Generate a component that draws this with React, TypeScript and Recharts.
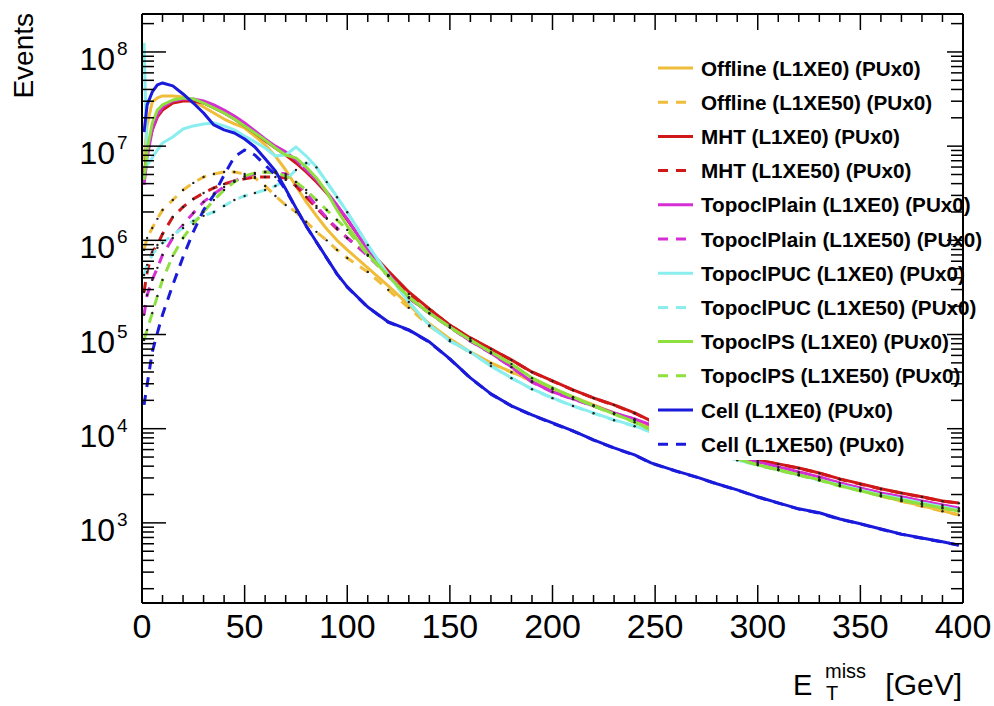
import React from 'react';
import { LineChart, Line, XAxis, YAxis } from 'recharts';

// ---------- data ----------
const xValues = [1, 2.5, 5, 7.5, 10, 15, 20, 25, 30, 35, 40, 45, 50, 55, 60, 65, 70, 75, 80, 85, 90, 95, 100, 110, 120, 130, 140, 150, 160, 170, 180, 190, 200, 210, 220, 230, 240, 248, 260, 270, 280, 290, 300, 310, 320, 330, 340, 350, 360, 370, 380, 390, 398];

const offlineL1XE0 = [7.14e6, 1.68e7, 2.95e7, 3.25e7, 3.41e7, 3.41e7, 3.33e7, 3.02e7, 2.6e7, 2.25e7, 1.94e7, 1.72e7, 1.56e7, 1.28e7, 1.03e7, 7.85e6, 5.58e6, 3.78e6, 2.56e6, 1.82e6, 1.32e6, 1.0e6, 7.92e5, 5.1e5, 3.28e5, 2.06e5, 1.3e5, 8.99e4, 6.53e4, 5.0e4, 4.0e4, 3.21e4, 2.64e4, 2.17e4, 1.79e4, 1.47e4, 1.24e4, 1.04e4, 8.4e3, 7.06e3, 5.96e3, 5.0e3, 4.33e3, 3.74e3, 3.31e3, 2.93e3, 2.53e3, 2.24e3, 1.94e3, 1.71e3, 1.52e3, 1.34e3, 1.22e3];
const offlineL1XE50 = [7.92e5, 1.06e6, 1.35e6, 1.69e6, 2.1e6, 2.68e6, 3.42e6, 4.07e6, 4.71e6, 5.07e6, 5.32e6, 5.32e6, 5.07e6, 4.6e6, 3.78e6, 2.96e6, 2.37e6, 2.0e6, 1.57e6, 1.23e6, 1.0e6, 7.92e5, 6.5e5, 4.62e5, 2.98e5, 1.92e5, 1.23e5, 8.76e4, 6.4e4, 4.95e4, 3.97e4, 3.19e4, 2.62e4, 2.16e4, 1.78e4, 1.46e4, 1.23e4, 1.03e4, 8.35e3, 7.0e3, 5.9e3, 4.95e3, 4.3e3, 3.72e3, 3.28e3, 2.9e3, 2.5e3, 2.22e3, 1.92e3, 1.7e3, 1.5e3, 1.33e3, 1.21e3];
const mhtL1XE0 = [4.93e6, 9.1e6, 1.49e7, 2.04e7, 2.42e7, 2.87e7, 3.02e7, 3.02e7, 2.87e7, 2.54e7, 2.25e7, 1.94e7, 1.64e7, 1.38e7, 1.14e7, 9.56e6, 8.05e6, 6.63e6, 5.32e6, 4.17e6, 3.18e6, 2.32e6, 1.65e6, 8.1e5, 4.73e5, 2.83e5, 1.87e5, 1.26e5, 9.2e4, 7.03e4, 5.38e4, 4.0e4, 3.21e4, 2.58e4, 2.12e4, 1.79e4, 1.47e4, 1.21e4, 1.04e4, 8.6e3, 7.06e3, 5.67e3, 4.66e3, 4.23e3, 3.83e3, 3.39e3, 2.93e3, 2.6e3, 2.3e3, 2.08e3, 1.89e3, 1.71e3, 1.63e3];
const mhtL1XE50 = [2.83e5, 4.62e5, 7.5e5, 8.94e5, 1.17e6, 1.77e6, 2.26e6, 2.75e6, 3.18e6, 3.6e6, 3.97e6, 4.27e6, 4.49e6, 4.71e6, 4.71e6, 4.71e6, 4.6e6, 3.78e6, 2.89e6, 2.21e6, 1.69e6, 1.32e6, 1.06e6, 7.0e5, 4.29e5, 2.7e5, 1.86e5, 1.25e5, 9.15e4, 7.0e4, 5.35e4, 3.98e4, 3.2e4, 2.57e4, 2.11e4, 1.78e4, 1.46e4, 1.2e4, 1.03e4, 8.55e3, 7.02e3, 5.64e3, 4.63e3, 4.2e3, 3.8e3, 3.37e3, 2.91e3, 2.58e3, 2.29e3, 2.07e3, 1.88e3, 1.7e3, 1.62e3];
const plainL1XE0 = [3.88e6, 7.5e6, 1.49e7, 2.14e7, 2.6e7, 3.02e7, 3.17e7, 3.17e7, 3.02e7, 2.74e7, 2.42e7, 2.09e7, 1.76e7, 1.45e7, 1.19e7, 1.0e7, 8.7e6, 7.14e6, 5.58e6, 4.38e6, 3.26e6, 2.37e6, 1.69e6, 7.92e5, 4.4e5, 2.45e5, 1.69e5, 1.2e5, 8.55e4, 6.37e4, 4.53e4, 3.14e4, 2.46e4, 2.07e4, 1.75e4, 1.47e4, 1.27e4, 1.1e4, 9.0e3, 7.6e3, 6.4e3, 5.27e3, 4.44e3, 3.93e3, 3.47e3, 3.08e3, 2.66e3, 2.35e3, 2.08e3, 1.89e3, 1.71e3, 1.55e3, 1.44e3];
const plainL1XE50 = [1.62e5, 2.63e5, 3.8e5, 5.1e5, 7.0e5, 1.06e6, 1.46e6, 1.95e6, 2.56e6, 3.11e6, 3.69e6, 4.27e6, 4.71e6, 5.07e6, 5.32e6, 5.32e6, 5.07e6, 4.17e6, 3.18e6, 2.32e6, 1.73e6, 1.35e6, 1.06e6, 6.84e5, 4.19e5, 2.44e5, 1.68e5, 1.19e5, 8.5e4, 6.33e4, 4.5e4, 3.12e4, 2.45e4, 2.06e4, 1.74e4, 1.46e4, 1.26e4, 1.09e4, 8.95e3, 7.55e3, 6.37e3, 5.24e3, 4.42e3, 3.91e3, 3.45e3, 3.06e3, 2.64e3, 2.34e3, 2.07e3, 1.88e3, 1.7e3, 1.54e3, 1.43e3];
const pucL1XE0 = [1.25e8, 6.3e6, 7.5e6, 9.1e6, 1.08e7, 1.25e7, 1.52e7, 1.64e7, 1.72e7, 1.76e7, 1.64e7, 1.49e7, 1.28e7, 1.11e7, 9.56e6, 7.85e6, 8.05e6, 9.8e6, 7.85e6, 6.0e6, 4.17e6, 2.89e6, 2.0e6, 8.94e5, 4.29e5, 2.22e5, 1.26e5, 8.55e4, 6.53e4, 4.64e4, 3.46e4, 2.64e4, 2.12e4, 1.75e4, 1.47e4, 1.24e4, 1.07e4, 9.25e3, 7.6e3, 6.4e3, 5.41e3, 4.66e3, 4.13e3, 3.66e3, 3.23e3, 2.86e3, 2.53e3, 2.24e3, 1.98e3, 1.8e3, 1.63e3, 1.48e3, 1.37e3];
const pucL1XE50 = [4.29e5, 5.49e5, 7.0e5, 8.33e5, 9.38e5, 1.14e6, 1.35e6, 1.61e6, 1.82e6, 2.0e6, 2.32e6, 2.68e6, 2.96e6, 3.18e6, 3.42e6, 3.78e6, 4.38e6, 5.58e6, 6.63e6, 5.95e6, 4.15e6, 2.87e6, 1.99e6, 8.9e5, 4.27e5, 2.21e5, 1.25e5, 8.5e4, 6.5e4, 4.62e4, 3.44e4, 2.63e4, 2.11e4, 1.74e4, 1.46e4, 1.23e4, 1.06e4, 9.2e3, 7.55e3, 6.37e3, 5.38e3, 4.63e3, 4.11e3, 3.64e3, 3.21e3, 2.84e3, 2.51e3, 2.23e3, 1.97e3, 1.79e3, 1.62e3, 1.47e3, 1.36e3];
const psL1XE0 = [4.38e6, 9.1e6, 1.76e7, 2.42e7, 2.74e7, 3.09e7, 3.25e7, 3.17e7, 2.87e7, 2.54e7, 2.25e7, 1.94e7, 1.64e7, 1.38e7, 1.16e7, 9.56e6, 8.05e6, 7.5e6, 6.0e6, 4.6e6, 3.26e6, 2.1e6, 1.42e6, 7.18e5, 4.19e5, 2.5e5, 1.69e5, 1.2e5, 8.76e4, 6.53e4, 4.87e4, 3.46e4, 2.71e4, 2.17e4, 1.75e4, 1.44e4, 1.18e4, 9.7e3, 7.98e3, 6.73e3, 5.67e3, 4.78e3, 4.13e3, 3.66e3, 3.23e3, 2.86e3, 2.47e3, 2.19e3, 1.94e3, 1.75e3, 1.59e3, 1.44e3, 1.34e3];
const psL1XE50 = [8.76e4, 1.12e5, 1.69e5, 2.57e5, 3.8e5, 6.84e5, 1.06e6, 1.49e6, 2.0e6, 2.68e6, 3.42e6, 4.17e6, 4.83e6, 5.19e6, 5.32e6, 5.19e6, 4.83e6, 4.17e6, 3.42e6, 2.68e6, 2.1e6, 1.65e6, 1.29e6, 7.0e5, 4.17e5, 2.49e5, 1.68e5, 1.19e5, 8.7e4, 6.5e4, 4.85e4, 3.44e4, 2.7e4, 2.16e4, 1.74e4, 1.43e4, 1.17e4, 9.65e3, 7.94e3, 6.7e3, 5.64e3, 4.76e3, 4.11e3, 3.64e3, 3.21e3, 2.84e3, 2.46e3, 2.18e3, 1.93e3, 1.74e3, 1.58e3, 1.43e3, 1.33e3];
const cellL1XE0 = [1.41e7, 2.74e7, 3.76e7, 4.47e7, 4.69e7, 4.36e7, 3.58e7, 2.87e7, 2.25e7, 1.68e7, 1.49e7, 1.38e7, 1.19e7, 9.8e6, 7.33e6, 5.45e6, 3.51e6, 2.21e6, 1.42e6, 9.6e5, 6.5e5, 4.4e5, 3.2e5, 1.96e5, 1.36e5, 1.12e5, 8.35e4, 5.5e4, 3.46e4, 2.34e4, 1.75e4, 1.4e4, 1.15e4, 9.5e3, 7.6e3, 6.25e3, 5.27e3, 4.33e3, 3.57e3, 3.08e3, 2.6e3, 2.24e3, 1.89e3, 1.63e3, 1.41e3, 1.28e3, 1.1e3, 9.8e2, 8.6e2, 7.6e2, 6.9e2, 6.3e2, 5.8e2];
const cellL1XE50 = [1.79e4, 2.92e4, 6.53e4, 1.04e5, 1.62e5, 3.36e5, 6.66e5, 1.23e6, 2.1e6, 3.03e6, 4.94e6, 7.68e6, 9.1e6, 8.05e6, 6.3e6, 4.93e6, 3.42e6, 2.2e6, 1.41e6, 9.55e5, 6.47e5, 4.38e5, 3.18e5, 1.95e5, 1.35e5, 1.11e5, 8.3e4, 5.47e4, 3.44e4, 2.33e4, 1.74e4, 1.39e4, 1.14e4, 9.45e3, 7.56e3, 6.22e3, 5.24e3, 4.31e3, 3.55e3, 3.06e3, 2.59e3, 2.23e3, 1.88e3, 1.62e3, 1.4e3, 1.27e3, 1.09e3, 9.75e2, 8.55e2, 7.56e2, 6.86e2, 6.27e2, 5.77e2];

const xMajorTicks = [0, 50, 100, 150, 200, 250, 300, 350, 400];
const xMinorTicks = [10, 20, 30, 40, 60, 70, 80, 90, 110, 120, 130, 140, 160, 170, 180, 190, 210, 220, 230, 240, 260, 270, 280, 290, 310, 320, 330, 340, 360, 370, 380, 390];
const yMajorTicks = [1e3, 1e4, 1e5, 1e6, 1e7, 1e8];
const yMinorTicks = [2e2, 3e2, 4e2, 5e2, 6e2, 7e2, 8e2, 9e2, 2e3, 3e3, 4e3, 5e3, 6e3, 7e3, 8e3, 9e3, 2e4, 3e4, 4e4, 5e4, 6e4, 7e4, 8e4, 9e4, 2e5, 3e5, 4e5, 5e5, 6e5, 7e5, 8e5, 9e5, 2e6, 3e6, 4e6, 5e6, 6e6, 7e6, 8e6, 9e6, 2e7, 3e7, 4e7, 5e7, 6e7, 7e7, 8e7, 9e7, 2e8];
const yDomain = [141, 2.53e8];
const xDomain = [0, 400];

const ORANGE = '#EFBD3A';
const RED = '#D01818';
const MAGENTA = '#D42ED4';
const CYAN = '#8AEEEE';
const GREEN = '#8DE03E';
const BLUE = '#1A1ADB';

const series = [
  { key: 'offline0', name: 'Offline (L1XE0) (PUx0)', values: offlineL1XE0, color: ORANGE, dashed: false, dots: false },
  { key: 'offline50', name: 'Offline (L1XE50) (PUx0)', values: offlineL1XE50, color: ORANGE, dashed: true, dots: true },
  { key: 'mht0', name: 'MHT (L1XE0) (PUx0)', values: mhtL1XE0, color: RED, dashed: false, dots: false },
  { key: 'mht50', name: 'MHT (L1XE50) (PUx0)', values: mhtL1XE50, color: RED, dashed: true, dots: true },
  { key: 'plain0', name: 'TopoclPlain (L1XE0) (PUx0)', values: plainL1XE0, color: MAGENTA, dashed: false, dots: false },
  { key: 'plain50', name: 'TopoclPlain (L1XE50) (PUx0)', values: plainL1XE50, color: MAGENTA, dashed: true, dots: true },
  { key: 'puc0', name: 'TopoclPUC (L1XE0) (PUx0)', values: pucL1XE0, color: CYAN, dashed: false, dots: false },
  { key: 'puc50', name: 'TopoclPUC (L1XE50) (PUx0)', values: pucL1XE50, color: CYAN, dashed: true, dots: true },
  { key: 'ps0', name: 'TopoclPS (L1XE0) (PUx0)', values: psL1XE0, color: GREEN, dashed: false, dots: false },
  { key: 'ps50', name: 'TopoclPS (L1XE50) (PUx0)', values: psL1XE50, color: GREEN, dashed: true, dots: true },
  { key: 'cell0', name: 'Cell (L1XE0) (PUx0)', values: cellL1XE0, color: BLUE, dashed: false, dots: false },
  { key: 'cell50', name: 'Cell (L1XE50) (PUx0)', values: cellL1XE50, color: BLUE, dashed: true, dots: false },
];

const data = xValues.map((x, i) => {
  const row: Record<string, number> = { x };
  series.forEach((s) => {
    row[s.key] = s.values[i];
  });
  return row;
});

const xAllTicks = [...xMajorTicks, ...xMinorTicks].sort((a, b) => a - b);
const yAllTicks = [...yMajorTicks, ...yMinorTicks].sort((a, b) => a - b);

const FONT = '"Liberation Sans", Arial, Helvetica, sans-serif';
const W = 994;
const H = 706;

const isXMajor = (v: number) => xMajorTicks.includes(v);
const isYMajor = (v: number) => yMajorTicks.includes(v);

function BottomTick(props: any) {
  const { x, y, payload } = props;
  const v = payload.value;
  const major = isXMajor(v);
  return (
    <g>
      <line x1={x} x2={x} y1={y} y2={y - (major ? 18 : 8)} stroke="#000" strokeWidth={1.5} />
      {major && (
        <text x={x} y={y + 35} textAnchor="middle" fontFamily={FONT} fontSize={34} fill="#000">
          {v}
        </text>
      )}
    </g>
  );
}

function TopTick(props: any) {
  const { x, y, payload } = props;
  const major = isXMajor(payload.value);
  return <line x1={x} x2={x} y1={y} y2={y + (major ? 16 : 8)} stroke="#000" strokeWidth={1.5} />;
}

function LeftTick(props: any) {
  const { x, y, payload } = props;
  const v = payload.value;
  const major = isYMajor(v);
  const exp = Math.round(Math.log10(v));
  return (
    <g>
      <line x1={x} x2={x + (major ? 24 : 12)} y1={y} y2={y} stroke="#000" strokeWidth={1.5} />
      {major && (
        <text x={x - 62.5} y={y + 18} fontFamily={FONT} fontSize={32} fill="#000">
          10
          <tspan dx={2} dy={-15} fontSize={19}>
            {exp}
          </tspan>
        </text>
      )}
    </g>
  );
}

function RightTick(props: any) {
  const { x, y, payload } = props;
  const major = isYMajor(payload.value);
  return <line x1={x} x2={x - (major ? 16 : 12)} y1={y} y2={y} stroke="#000" strokeWidth={1.5} />;
}

function renderDot(p: any) {
  if (p.cx == null || p.cy == null) return <g key={`d-${p.dataKey}-${p.index}`} />;
  return <circle key={`d-${p.dataKey}-${p.index}`} cx={p.cx} cy={p.cy} r={1.2} fill="#222" stroke="none" />;
}

const LEG_TOP = 68;
const LEG_STEP = 34.2;

export default function App() {
  return (
    <div style={{ position: 'absolute', left: 0, top: 0, width: W, height: H, background: '#fff' }}>
      <LineChart width={W} height={H} data={data} margin={{ top: 13, right: 30, bottom: 102, left: 141 }}>
        <XAxis
          dataKey="x"
          type="number"
          domain={xDomain}
          allowDataOverflow
          ticks={xAllTicks}
          interval={0}
          height={1}
          tickSize={0}
          tickMargin={0}
          tickLine={false}
          axisLine={{ stroke: '#000', strokeWidth: 2 }}
          tick={BottomTick}
        />
        <XAxis
          xAxisId="top"
          orientation="top"
          dataKey="x"
          type="number"
          domain={xDomain}
          allowDataOverflow
          ticks={xAllTicks}
          interval={0}
          height={1}
          tickSize={0}
          tickMargin={0}
          tickLine={false}
          axisLine={{ stroke: '#000', strokeWidth: 2 }}
          tick={TopTick}
        />
        <YAxis
          scale="log"
          type="number"
          domain={yDomain}
          allowDataOverflow
          ticks={yAllTicks}
          interval={0}
          width={1}
          tickSize={0}
          tickMargin={0}
          tickLine={false}
          axisLine={{ stroke: '#000', strokeWidth: 2 }}
          tick={LeftTick}
        />
        <YAxis
          yAxisId="right"
          orientation="right"
          scale="log"
          type="number"
          domain={yDomain}
          allowDataOverflow
          ticks={yAllTicks}
          interval={0}
          width={1}
          tickSize={0}
          tickMargin={0}
          tickLine={false}
          axisLine={{ stroke: '#000', strokeWidth: 2 }}
          tick={RightTick}
        />
        {series.map((s) => (
          <Line
            key={s.key}
            type="linear"
            dataKey={s.key}
            name={s.name}
            stroke={s.color}
            strokeWidth={3}
            strokeDasharray={s.dashed ? '10 8' : undefined}
            strokeLinejoin="round"
            dot={s.dots ? renderDot : false}
            activeDot={false}
            isAnimationActive={false}
          />
        ))}
      </LineChart>
      <svg
        width={W}
        height={H}
        style={{ position: 'absolute', left: 0, top: 0, pointerEvents: 'none', overflow: 'visible' }}
      >
        <rect x={649} y={48} width={297} height={412} fill="#fff" />
        {series.map((s, i) => {
          const cy = LEG_TOP + LEG_STEP * i;
          return (
            <g key={`leg-${s.key}`}>
              <line
                x1={658}
                x2={693}
                y1={cy}
                y2={cy}
                stroke={s.color}
                strokeWidth={3}
                strokeDasharray={s.dashed ? '10 8' : undefined}
              />
              <text x={701} y={cy + 7.5} fontFamily={FONT} fontWeight="bold" fontSize={20.7} fill="#000">
                {s.name}
              </text>
            </g>
          );
        })}
        <text
          x={33}
          y={13}
          transform="rotate(-90 33 13)"
          textAnchor="end"
          fontFamily={FONT}
          fontSize={28}
          fill="#000"
        >
          Events
        </text>
        <text x={793} y={695} fontFamily={FONT} fontSize={29} fill="#000">
          E
        </text>
        <text x={825} y={678} fontFamily={FONT} fontSize={20} fill="#000">
          miss
        </text>
        <text x={826} y={700} fontFamily={FONT} fontSize={20} fill="#000">
          T
        </text>
        <text x={962} y={695} textAnchor="end" fontFamily={FONT} fontSize={30} fill="#000">
          [GeV]
        </text>
      </svg>
    </div>
  );
}
